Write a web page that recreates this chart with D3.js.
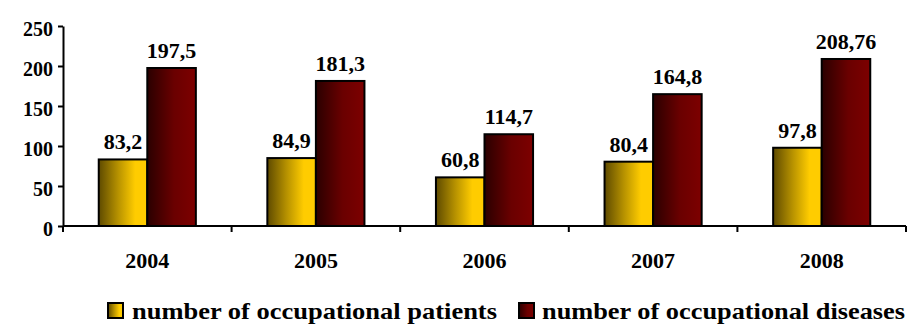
<!DOCTYPE html>
<html>
<head>
<meta charset="utf-8">
<script src="https://cdn.jsdelivr.net/npm/d3@7/dist/d3.min.js"></script>
</head>
<body style="margin:0">
<svg id="chart" width="910" height="324"></svg>
<script>
// Occupational health statistics by year
const years = ["2004", "2005", "2006", "2007", "2008"];
const patients = [83.2, 84.9, 60.8, 80.4, 97.8];
const diseases = [197.5, 181.3, 114.7, 164.8, 208.76];
const valueLabelsPatients = ["83,2", "84,9", "60,8", "80,4", "97,8"];
const valueLabelsDiseases = ["197,5", "181,3", "114,7", "164,8", "208,76"];
const yTicks = [0, 50, 100, 150, 200, 250];
const seriesNames = ["number of occupational patients", "number of occupational diseases"];

const FONT = "Liberation Serif";

const svg = d3.select("#chart");
const defs = svg.append("defs");

const gradYellow = defs.append("linearGradient").attr("id", "gYellow")
  .attr("x1", "0%").attr("x2", "100%").attr("y1", "0%").attr("y2", "0%");
gradYellow.append("stop").attr("offset", "0%").attr("stop-color", "#5e4a00");
gradYellow.append("stop").attr("offset", "40%").attr("stop-color", "#b79200");
gradYellow.append("stop").attr("offset", "75%").attr("stop-color", "#ffcc00");
gradYellow.append("stop").attr("offset", "100%").attr("stop-color", "#ffcc00");

const gradRed = defs.append("linearGradient").attr("id", "gRed")
  .attr("x1", "0%").attr("x2", "100%").attr("y1", "0%").attr("y2", "0%");
gradRed.append("stop").attr("offset", "0%").attr("stop-color", "#2a0000");
gradRed.append("stop").attr("offset", "55%").attr("stop-color", "#6a0000");
gradRed.append("stop").attr("offset", "100%").attr("stop-color", "#7d0000");

const fills = ["url(#gYellow)", "url(#gRed)"];

const x0 = 63, x1 = 906, yTop = 26, yBase = 226;

const x = d3.scaleBand().domain(years).range([x0, x1]).paddingInner(0).paddingOuter(0);
const y = d3.scaleLinear().domain([0, 250]).range([yBase, yTop]);

const bw = x.bandwidth();
const barW = bw * 0.288;

// Bars with value labels
const series = [patients, diseases];
const labels = [valueLabelsPatients, valueLabelsDiseases];
series.forEach((vals, si) => {
  const g = svg.append("g");
  g.selectAll("rect").data(years).join("rect")
    .attr("x", d => x(d) + bw / 2 - barW + si * barW)
    .attr("y", (d, i) => y(vals[i]))
    .attr("width", barW)
    .attr("height", (d, i) => yBase - y(vals[i]))
    .attr("fill", fills[si])
    .attr("stroke", "#000")
    .attr("stroke-width", 2);
  g.selectAll("text").data(years).join("text")
    .attr("x", d => x(d) + bw / 2 - barW / 2 + si * barW)
    .attr("y", (d, i) => y(vals[i]) - 10)
    .attr("text-anchor", "middle")
    .attr("font-family", FONT)
    .attr("font-weight", "bold")
    .attr("font-size", 22)
    .text((d, i) => labels[si][i]);
});

// Y axis
const yAxis = d3.axisLeft(y).tickValues(yTicks).tickSize(5).tickSizeOuter(0).tickPadding(5)
  .tickFormat(d3.format("d"));
const gy = svg.append("g").attr("transform", `translate(${x0},0)`).call(yAxis);
gy.select(".domain").attr("stroke", "#000").attr("stroke-width", 2);
gy.selectAll(".tick line").attr("stroke", "#000").attr("stroke-width", 2);
gy.selectAll(".tick text").attr("dy", "0.45em").attr("fill", "#000")
  .attr("font-family", FONT).attr("font-size", 20).attr("font-weight", "bold");

// X axis with tick marks at band boundaries
const gx = svg.append("g").attr("transform", `translate(0,${yBase})`);
gx.append("line").attr("x1", x0).attr("x2", x1).attr("y1", 0).attr("y2", 0)
  .attr("stroke", "#000").attr("stroke-width", 2);
const bounds = years.map(d => x(d)).concat([x1]);
gx.selectAll("line.tk").data(bounds).join("line").attr("class", "tk")
  .attr("x1", d => d).attr("x2", d => d).attr("y1", 0).attr("y2", 6)
  .attr("stroke", "#000").attr("stroke-width", 2);
gx.selectAll("text").data(years).join("text")
  .attr("x", d => x(d) + bw / 2)
  .attr("y", 42)
  .attr("text-anchor", "middle")
  .attr("font-family", FONT)
  .attr("font-weight", "bold")
  .attr("font-size", 22)
  .text(d => d);

// Legend
const legendItems = [
  { sx: 108, tx: 132, w: 365 },
  { sx: 519, tx: 542, w: 363 }
];
const lg = svg.append("g");
legendItems.forEach((it, i) => {
  lg.append("rect").attr("x", it.sx).attr("y", 303).attr("width", 15).attr("height", 15)
    .attr("fill", fills[i]).attr("stroke", "#000").attr("stroke-width", 2);
  lg.append("text").attr("x", it.tx).attr("y", 319)
    .attr("font-family", FONT).attr("font-weight", "bold").attr("font-size", 24)
    .attr("textLength", it.w).attr("lengthAdjust", "spacingAndGlyphs")
    .text(seriesNames[i]);
});
</script>
</body>
</html>
